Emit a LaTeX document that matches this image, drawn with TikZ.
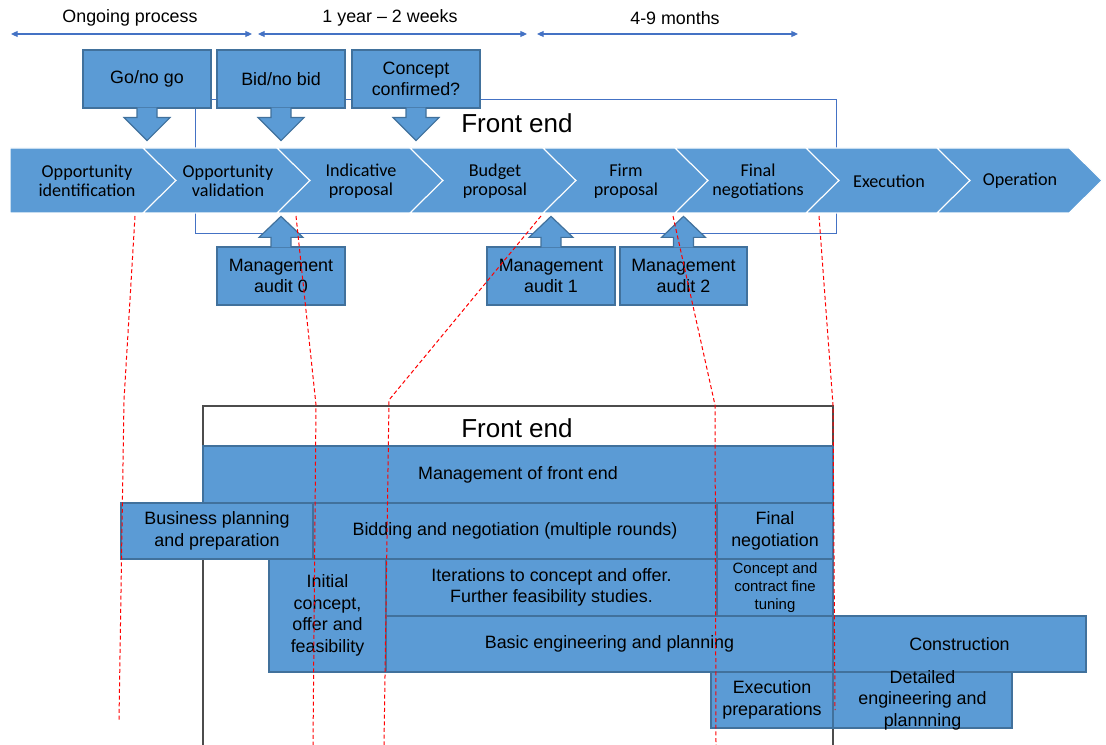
\documentclass[tikz,border=0pt]{standalone}
\usepackage{fontspec}
\setmainfont{Liberation Sans}
\newfontfamily\calib{Carlito}
\usepackage{tikz}
\usetikzlibrary{arrows.meta,calc,fit}
\definecolor{ofblue}{HTML}{5B9BD5}
\definecolor{ofedge}{HTML}{41719C}
\definecolor{ofline}{HTML}{4472C4}

\begin{document}
\begin{tikzpicture}[x=0.75pt, y=-0.75pt,
    txt/.style={font=\fontsize{13.4}{16.1}\selectfont, align=center, inner sep=0pt},
    blk/.style={txt, draw=ofedge, fill=ofblue, line width=0.9pt},
    sz/.style 2 args={minimum width=#1*0.75pt, minimum height=#2*0.75pt},
    arw/.style={draw=ofedge, fill=ofblue, line width=0.9pt},
    chev/.style={draw=white, fill=ofblue, line width=0.8pt},
    chtxt/.style={font=\calib\fontsize{13.6}{14.2}\selectfont, align=center, inner sep=0pt},
    dur/.style={draw=ofline, line width=0.8pt, >={Triangle[length=5pt,width=4.5pt]}, <->},
    guide/.style={draw=red, line width=0.75pt, dash pattern=on 3pt off 2pt}]
    \useasboundingbox (0,0) rectangle (1106,745);

    \coordinate (a0) at (11,34);  \coordinate (a1) at (252,34);
    \coordinate (a2) at (258,34); \coordinate (a3) at (527,34);
    \coordinate (a4) at (537,34); \coordinate (a5) at (798,34);
    \draw[dur] (a0) -- (a1);
    \draw[dur] (a2) -- (a3);
    \draw[dur] (a4) -- (a5);
    \node[txt] (og) at (130,18) {Ongoing process};
    \node[txt] (yr) at (390,18) {1 year – 2 weeks};
    \node[txt] (mo) at (675,18) {4-9 months};

    \node[draw=ofline, line width=0.75pt, inner sep=0pt, fit={(195,100)(836,234)}] (fe1box) {};
    \node[txt, font=\fontsize{19.5}{23}\selectfont] (fe1) at (517,123) {Front end};

    \foreach \a/\b/\n/\tx/\t [count=\i] in {10/143/0/87/{Opportunity\\identification},
        143/277/33/228/{Opportunity\\validation}, 277/410/33/361/{Indicative\\proposal},
        410/543/33/495/{Budget\\proposal}, 543/675/33/626/{Firm\\proposal},
        675/806/33/758/{Final\\negotiations}, 806/937/33/889/Execution,
        937/1069/33/1020/Operation}{
      \draw[chev] (\a,148) -- (\b,148) -- (\b+33,180.5) -- (\b,213) -- (\a,213) -- (\a+\n,180.5) -- cycle;
      \node[chtxt] (ch\i) at (\tx,181) {\t};
    }

    \node[blk, sz={128}{58}] (go) at (147,79) {Go/no go};
    \node[blk, sz={128}{58}] (bid) at (281,79) {Bid/no bid};
    \node[blk, sz={128}{58}] (conc) at (416,79) {Concept\\confirmed?};
    \foreach \n in {go,bid,conc}
      \draw[arw] ($(\n.south)+(-10,-1)$) -- ++(0,10) -- ++(-13,0) -- ++(23,23) -- ++(23,-23) -- ++(-13,0) -- ++(0,-10);

    \node[blk, sz={128}{58}] (ma0) at (281,276) {Management\\audit 0};
    \node[blk, sz={128}{58}] (ma1) at (551,276) {Management\\audit 1};
    \node[blk, sz={127}{58}] (ma2) at (683.5,276) {Management\\audit 2};
    \foreach \n in {ma0,ma1,ma2}
      \draw[arw] ($(\n.north)+(-10,1)$) -- ++(0,-10) -- ++(-12,0) -- ++(22,-21) -- ++(22,21) -- ++(-12,0) -- ++(0,10);

    \draw[black!70, line width=0.9pt] (203,745) -- (203,406) -- (833,406) -- (833,745);
    \node[txt, font=\fontsize{19.5}{23}\selectfont] (fe2) at (517,428) {Front end};

    \node[blk, sz={630}{57}] (mgmt) at (518,474.5) {Management of front end};
    \node[blk, sz={192}{56}] (bus) at (217,531) {Business planning\\and preparation};
    \node[blk, sz={404}{56}] (bidn) at (515,531) {Bidding and negotiation (multiple rounds)};
    \node[blk, sz={116}{56}] (fneg) at (775,531) {Final\\negotiation};
    \node[blk, sz={117}{113}] (init) at (327.5,615.5) {Initial\\concept,\\offer and\\feasibility};
    \node[blk, sz={331}{57}] (iter) at (551.5,587.5) {Iterations to concept and offer.\\Further feasibility studies.};
    \node[blk, sz={116}{57}, font=\fontsize{11.2}{13.5}\selectfont] (tune) at (775,587.5) {Concept and\\contract fine\\tuning};
    \node[blk, sz={447}{56}] (basic) at (609.5,644) {Basic engineering and planning};
    \node[blk, sz={253}{56}] (cons) at (959.5,644) {Construction};
    \node[blk, sz={122}{56}] (expr) at (772,700) {Execution\\preparations};
    \node[blk, sz={179}{56}] (det) at (922.5,700) {};
    \node[txt] (dett) at (det) {Detailed\\engineering and\\plannning};

    \draw[guide] (135,216) -- (124,400) -- (119,720);
    \draw[guide] (296,216) -- (316,405) -- (313,745);
    \draw[guide] (541,216) -- (389,400) -- (384,745);
    \draw[guide] (673,216) -- (715,405) -- (716,745);
    \draw[guide] (819,216) -- (833,405) -- (835,710);
\end{tikzpicture}
\end{document}
